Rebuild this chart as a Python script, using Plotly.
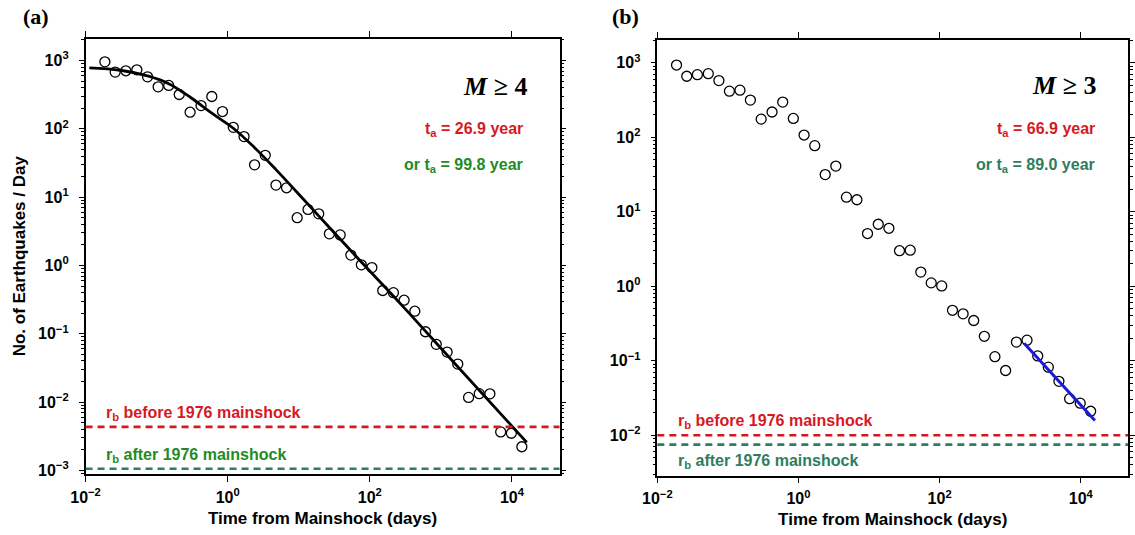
import plotly.graph_objects as go
from plotly.subplots import make_subplots

# Time bins (days after mainshock), shared by both catalogues
bin_days = [0.0187, 0.0261, 0.0369, 0.0527, 0.0745, 0.105, 0.148, 0.208, 0.296, 0.422,
            0.598, 0.845, 1.20, 1.70, 2.39, 3.38, 4.78, 6.73, 9.51, 13.5,
            19.1, 27.0, 38.3, 54.1, 76.0, 107, 152, 215, 304, 430,
            607, 861, 1225, 1730, 2455, 3467, 4898, 6950, 9817, 13800]

# Aftershock rates (events/day)
rate_m4 = [955, 676, 707, 730, 577, 412, 431, 318, 175, 219,
           297, 179, 105, 77, 29.7, 41, 15.0, 13.7, 5.0, 6.6,
           5.7, 2.9, 2.8, 1.42, 1.02, 0.93, 0.43, 0.40, 0.31, 0.214,
           0.107, 0.070, 0.054, 0.036, 0.0117, 0.0133, 0.0132, 0.00366, 0.0035, 0.00222]
rate_m3 = [931, 658, 692, 713, 576, 415, 428, 315, 175, 218,
           296, 179, 107, 77, 31.5, 41, 15.7, 14.5, 5.1, 6.8,
           6.0, 3.0, 3.05, 1.55, 1.11, 1.01, 0.476, 0.426, 0.347, 0.213,
           0.1135, 0.074, 0.178, 0.189, 0.116, 0.082, 0.053, 0.031, 0.027, 0.021]

# Fitted decay curve for M>=4
fit_days = [0.0113, 0.0308, 0.0769, 0.153, 0.304, 0.604, 1.20, 2.39, 4.75, 9.44,
            18.8, 37.3, 74.3, 294, 1459, 16180]
fit_rate = [780, 720, 590, 450, 285, 168, 102, 53, 25.5, 11.8,
            5.4, 2.5, 1.15, 0.25, 0.040, 0.00257]

# Late-time fit for M>=3
late_days = [1573, 15850]
late_rate = [0.172, 0.0158]

# Background rates before / after the 1976 mainshock
rb_m4 = [0.00434, 0.00106]
rb_m3 = [0.0100, 0.0075]

exps_a = [-3, -2, -1, 0, 1, 2, 3]
exps_b = [-2, -1, 0, 1, 2, 3]
exps_x = [-2, 0, 2, 4]

W, H = 1135, 535
RED = "#d7191f"
GREEN_A = "#238b23"
TEAL = "#2e7d5e"
SANS = "Liberation Sans, Arial"
SERIF = "Liberation Serif, Times New Roman"


def px(x):
    return x / W


def py(y):
    return 1 - y / H


def pow_label(e):
    return "10<sup>" + ("\u2212" + str(-e) if e < 0 else str(e)) + "</sup>"


fig = make_subplots(rows=1, cols=2)

marker = dict(symbol="circle-open", size=10, color="black", line=dict(width=1.3, color="black"))

fig.add_trace(go.Scatter(x=fit_days, y=fit_rate, mode="lines", line=dict(color="black", width=2.8, shape="spline"),
                         showlegend=False), row=1, col=1)
fig.add_trace(go.Scatter(x=bin_days, y=rate_m4, mode="markers", marker=marker, showlegend=False), row=1, col=1)
fig.add_trace(go.Scatter(x=bin_days, y=rate_m3, mode="markers", marker=marker, showlegend=False), row=1, col=2)
fig.add_trace(go.Scatter(x=late_days, y=late_rate, mode="lines", line=dict(color="#1a1ad8", width=3),
                         showlegend=False), row=1, col=2)

for col, rb in ((1, rb_m4), (2, rb_m3)):
    fig.add_hline(y=rb[0], line=dict(color=RED, width=2.6, dash="7px,5px"), row=1, col=col)
    fig.add_hline(y=rb[1], line=dict(color=TEAL, width=2.6, dash="7px,5px"), row=1, col=col)

tickfont = dict(family=SANS, size=16, color="black", weight="bold")
titlefont = dict(family=SANS, size=17, color="black", weight="bold")

minor_vals = [d * 10 ** e for e in range(-4, 6) for d in range(2, 10)]

xcommon = dict(type="log", range=[-2, 4.67], showgrid=False, zeroline=False, showline=True,
               linecolor="black", linewidth=1.5, mirror="ticks", ticks="outside", ticklen=6,
               tickwidth=1.3, tickcolor="black", tickmode="array", ticklabelstandoff=2,
               tickvals=[10 ** e for e in exps_x], ticktext=[pow_label(e) for e in exps_x],
               tickfont=tickfont, title=dict(text="Time from Mainshock (days)", font=titlefont, standoff=7))
fig.update_xaxes(**xcommon)
fig.update_xaxes(domain=[px(71.7), px(553.3)], row=1, col=1)
fig.update_xaxes(domain=[px(652.7), px(1131)], row=1, col=2)

ycommon = dict(type="log", showgrid=False, zeroline=False, showline=True, linecolor="black", linewidth=1.5,
               mirror="ticks", ticks="outside", ticklen=5, tickwidth=1.3, tickcolor="black",
               tickmode="array", tickfont=tickfont, ticklabelstandoff=7,
               minor=dict(ticks="outside", ticklen=3, tickwidth=1, tickcolor="black", showgrid=False,
                          tickmode="array", tickvals=minor_vals))
fig.update_yaxes(**ycommon)
fig.update_yaxes(range=[-3.05, 3.32], domain=[py(478.3), py(39)],
                 tickvals=[10 ** e for e in exps_a], ticktext=[pow_label(e) for e in exps_a],
                 title=dict(text="No. of Earthquakes / Day", font=titlefont, standoff=8), row=1, col=1)
fig.update_yaxes(range=[-2.54, 3.31], domain=[py(480), py(40)],
                 tickvals=[10 ** e for e in exps_b], ticktext=[pow_label(e) for e in exps_b],
                 row=1, col=2)

ann = []


def label(text, x, y, xanchor="left", size=16, color="black", family=SANS):
    ann.append(dict(text=text, x=px(x), y=py(y), xref="paper", yref="paper", xanchor=xanchor,
                    yanchor="middle", showarrow=False, font=dict(family=family, size=size, color=color)))


label("<b>(a)</b>", 6, 17, size=22, family=SERIF)
label("<b>(b)</b>", 605, 17, size=22, family=SERIF)
label("<b><i>M</i> \u2265 4</b>", 522, 87, xanchor="right", size=26, family=SERIF)
label("<b><i>M</i> \u2265 3</b>", 1100, 86, xanchor="right", size=26, family=SERIF)
label("<b>t<sub>a</sub> = 26.9 year</b>", 518, 131, xanchor="right", color=RED)
label("<b>or t<sub>a</sub> = 99.8 year</b>", 518, 167, xanchor="right", color=GREEN_A)
label("<b>t<sub>a</sub> = 66.9 year</b>", 1099, 131, xanchor="right", color=RED)
label("<b>or t<sub>a</sub> = 89.0 year</b>", 1099, 167, xanchor="right", color=TEAL)
label("<b>r<sub>b</sub> before 1976 mainshock</b>", 90, 417, color=RED)
label("<b>r<sub>b</sub> after 1976 mainshock</b>", 90, 460, color=GREEN_A)
label("<b>r<sub>b</sub> before 1976 mainshock</b>", 672, 425, color=RED)
label("<b>r<sub>b</sub> after 1976 mainshock</b>", 672, 466, color=TEAL)

fig.update_layout(width=W, height=H, margin=dict(l=0, r=0, t=0, b=0), paper_bgcolor="white",
                  plot_bgcolor="white", annotations=list(fig.layout.annotations) + ann)

fig.write_html("out.html")
